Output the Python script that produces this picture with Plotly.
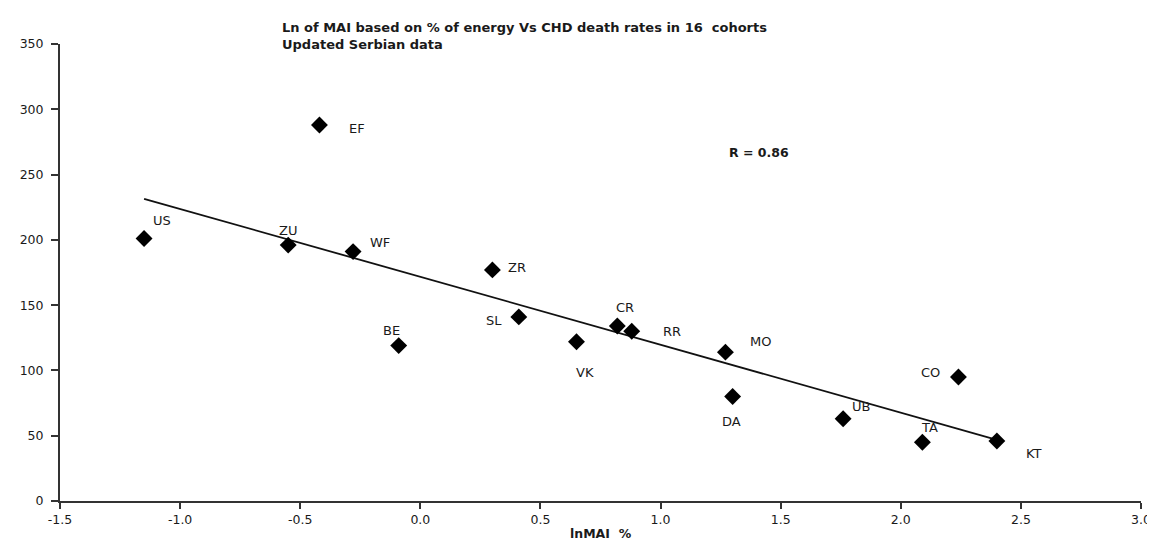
import numpy as np
import plotly.graph_objects as go

# ---- data ----
cohorts = ["US", "ZU", "EF", "WF", "BE", "ZR", "SL", "VK",
           "CR", "RR", "MO", "DA", "UB", "TA", "CO", "KT"]
ln_mai = [-1.15, -0.55, -0.42, -0.28, -0.09, 0.30, 0.41, 0.65,
          0.82, 0.88, 1.27, 1.30, 1.76, 2.09, 2.24, 2.40]
chd_deaths = [201, 196, 288, 191, 119, 177, 141, 122,
              134, 130, 114, 80, 63, 45, 95, 46]
x_ticks = [-1.5, -1.0, -0.5, 0.0, 0.5, 1.0, 1.5, 2.0, 2.5, 3.0]
y_ticks = [0, 50, 100, 150, 200, 250, 300, 350]
r_text = "R = 0.86"

# label pixel offsets (dx right, dy up) - placement only
label_offsets = {
    "US": (18, 18), "ZU": (0, 15), "EF": (38, -4), "WF": (27, 9),
    "BE": (-7, 15), "ZR": (25, 2), "SL": (-25, -4), "VK": (9, -31),
    "CR": (8, 19), "RR": (40, 0), "MO": (35, 11), "DA": (-1, -25),
    "UB": (18, 12), "TA": (7, 15), "CO": (-28, 4), "KT": (37, -13),
}

# trend line from a least-squares fit of the points
slope, intercept = np.polyfit(ln_mai, chd_deaths, 1)
tx = np.array([min(ln_mai), max(ln_mai)])
ty = slope * tx + intercept

FONT = "DejaVu Sans"
TXT = "#1a1a1a"

fig = go.Figure()
fig.add_trace(go.Scatter(
    x=tx, y=ty, mode="lines",
    line=dict(color="#111111", width=1.8),
    hoverinfo="skip", showlegend=False,
))
fig.add_trace(go.Scatter(
    x=ln_mai, y=chd_deaths, mode="markers",
    marker=dict(symbol="diamond", size=13, color="#000000"),
    text=cohorts, showlegend=False,
))

annotations = []
for name, xv, yv in zip(cohorts, ln_mai, chd_deaths):
    dx, dy = label_offsets[name]
    annotations.append(dict(
        x=xv, y=yv, xref="x", yref="y", text=name, showarrow=False,
        xshift=dx, yshift=dy, font=dict(family=FONT, size=13, color=TXT),
    ))

annotations.append(dict(
    x=1.41, y=267, xref="x", yref="y", text=f"<b>{r_text}</b>", showarrow=False,
    font=dict(family=FONT, size=12.5, color=TXT),
))
annotations.append(dict(
    x=(272 - 50) / 1092, y=1, xref="paper", yref="paper",
    xanchor="left", yanchor="top", yshift=26, align="left",
    text="<b>Ln of MAI based on % of energy Vs CHD death rates in 16  cohorts</b><br>"
         "<b>Updated Serbian data</b>",
    showarrow=False, font=dict(family=FONT, size=13, color=TXT),
))
annotations.append(dict(
    x=0.5, y=0, xref="paper", yref="paper", xanchor="center", yanchor="middle",
    yshift=-32, text="<b>lnMAI  %</b>", showarrow=False,
    font=dict(family=FONT, size=12.5, color=TXT),
))

fig.update_layout(
    width=1155, height=540,
    margin=dict(l=50, r=13, t=36, b=47),
    paper_bgcolor="white", plot_bgcolor="white",
    annotations=annotations,
    xaxis=dict(
        range=[-1.5, 3.0], tickmode="array", tickvals=x_ticks,
        ticktext=[f"{v:.1f}" for v in x_ticks],
        showgrid=False, zeroline=False, showline=True,
        linecolor="#333333", linewidth=2,
        ticks="outside", ticklen=6, tickwidth=1.5, tickcolor="#333333",
        tickfont=dict(family=FONT, size=12.5, color=TXT),
    ),
    yaxis=dict(
        range=[0, 350], tickmode="array", tickvals=y_ticks,
        showgrid=False, zeroline=False, showline=True,
        linecolor="#333333", linewidth=2,
        ticks="outside", ticklen=7, tickwidth=1.5, tickcolor="#333333",
        ticklabelstandoff=5,
        tickfont=dict(family=FONT, size=12.5, color=TXT),
    ),
)

fig.write_html("out.html")
